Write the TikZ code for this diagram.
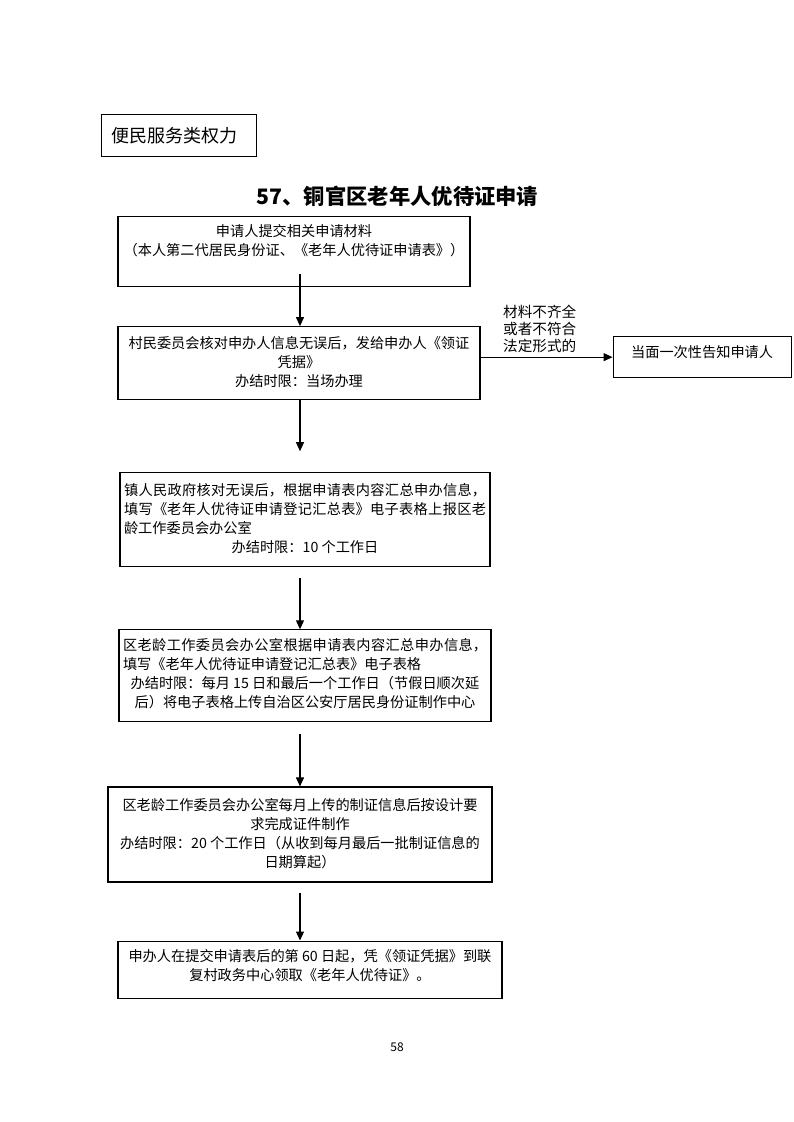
\documentclass[tikz,border=0pt]{standalone}
\usepackage{fontspec}
\setmainfont{Noto Sans CJK SC}
\XeTeXlinebreaklocale "zh"
\XeTeXlinebreakskip=0pt plus 2pt
\usetikzlibrary{positioning,arrows.meta}
\newcommand{\boxtext}[4]{\parbox[c][#1][t]{#2}{\vspace*{#3}\fontsize{14.2pt}{19pt}\selectfont #4}}

\begin{document}
\begin{tikzpicture}[
x=1pt, y=-1pt,
box/.style={rectangle, draw=black, line width=1.1pt, inner xsep=5pt, inner ysep=0pt},
note/.style={align=left, inner sep=0pt, font=\fontsize{14.6pt}{17pt}\selectfont},
arrow/.style={-{Triangle[length=9pt, width=8pt]}, line width=1.1pt}
]
\useasboundingbox (0,0) rectangle (793,1122);

\node[box, inner xsep=10pt, anchor=north west] (category) at (101,114) {\parbox[c][42pt][c]{135pt}{\fontsize{18pt}{20pt}\selectfont 便民服务类权力}};
\node[font=\bfseries\fontsize{21.3pt}{24pt}\selectfont] (title) at (397.5,196) {57、铜官区老年人优待证申请};

\node[box, inner xsep=4pt, anchor=north] (submit) at (294,216) {\boxtext{70pt}{344pt}{7.6pt}{\centering 申请人提交相关申请材料\\（本人第二代居民身份证、《老年人优待证申请表》）}};
\node[box, below=39pt of submit, xshift=5pt] (check) {\boxtext{73pt}{352pt}{9.6pt}{\centering 村民委员会核对申办人信息无误后，发给申办人《领证\\凭据》\\办结时限：当场办理}};
\node[box, right=132pt of check, yshift=6pt] (notify) {\boxtext{41pt}{168pt}{8.6pt}{\centering 当面一次性告知申请人}};
\node[note, anchor=north west] (reason) at (503,304.6) {材料不齐全\\或者不符合\\法定形式的};

\node[box, inner xsep=4pt, below=72pt of check, xshift=6pt] (town) {\boxtext{94pt}{362pt}{10.6pt}{镇人民政府核对无误后，根据申请表内容汇总申办信息，\linebreak 填写《老年人优待证申请登记汇总表》电子表格上报区老\linebreak 龄工作委员会办公室\par{\centering 办结时限：10 个工作日\par}}};
\node[box, inner xsep=4pt, below=62pt of town] (office) {\boxtext{92pt}{364pt}{8.6pt}{区老龄工作委员会办公室根据申请表内容汇总申办信息，\linebreak 填写《老年人优待证申请登记汇总表》电子表格\par{\centering 办结时限：每月 15 日和最后一个工作日（节假日顺次延\\后）将电子表格上传自治区公安厅居民身份证制作中心\par}}};
\node[box, below=64pt of office, xshift=-5pt] (make) {\boxtext{95pt}{374pt}{11.6pt}{\centering 区老龄工作委员会办公室每月上传的制证信息后按设计要\\求完成证件制作\\办结时限：20 个工作日（从收到每月最后一批制证信息的\\日期算起）}};
\node[box, below=58pt of make, xshift=10pt] (collect) {\boxtext{57pt}{374pt}{8.6pt}{\centering 申办人在提交申请表后的第 60 日起，凭《领证凭据》到联\\复村政务中心领取《老年人优待证》。}};

\node[font=\fontsize{12pt}{14pt}\selectfont] (page) at (397,1047) {58};

\coordinate (axis) at (300,0);
\draw[arrow, shorten <=-13pt] (submit.south -| axis) -- (check.north -| axis);
\draw[arrow, shorten >=21pt] (check.south -| axis) -- (town.north -| axis);
\draw[arrow, shorten <=11pt] (town.south -| axis) -- (office.north -| axis);
\draw[arrow, shorten <=12pt] (office.south -| axis) -- (make.north -| axis);
\draw[arrow, shorten <=10pt] (make.south -| axis) -- (collect.north -| axis);
\draw[arrow] (check.east |- notify.west) -- (notify.west);

\end{tikzpicture}
\end{document}
